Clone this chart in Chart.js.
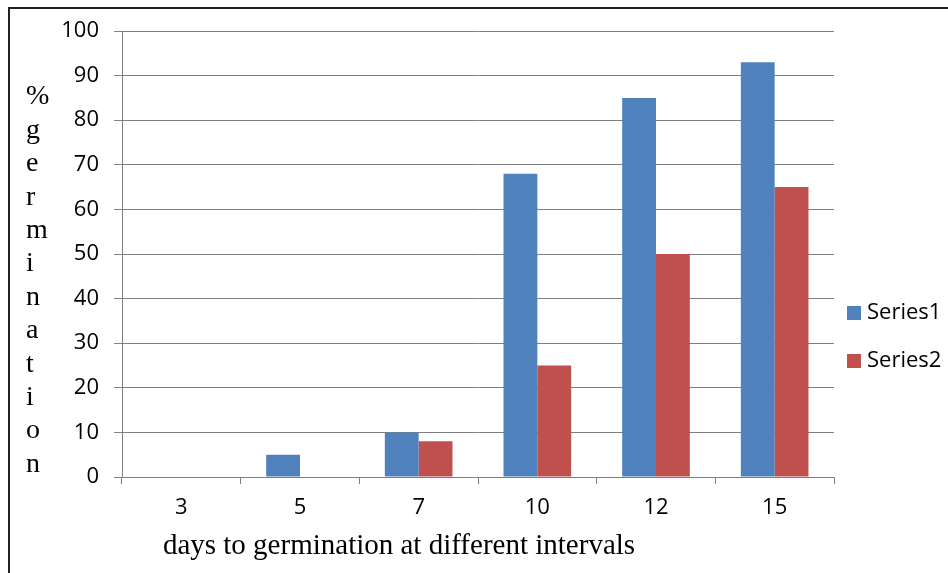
<!DOCTYPE html>
<html>
<head>
<meta charset="utf-8">
<script src="https://cdn.jsdelivr.net/npm/chart.js@4"></script>
<style>
html,body{margin:0;padding:0;background:#fff;}
#wrap{position:relative;width:948px;height:573px;overflow:hidden;}
#frame{position:absolute;left:8px;top:7px;width:960px;height:600px;border-top:2px solid #222;border-left:2px solid #222;}
canvas{position:absolute;left:0;top:0;}
</style>
</head>
<body>
<div id="wrap">
<div id="frame"></div>
<canvas id="grafico" width="948" height="573"></canvas>
</div>
<script>
// datos
const categorias = ["3", "5", "7", "10", "12", "15"];
const serie1 = [0, 5, 10, 68, 85, 93];
const serie2 = [0, 0, 8, 25, 50, 65];
const nombres = ["Series1", "Series2"];
const colores = ["#4F81BD", "#C0504D"];
const yMin = 0, yMax = 100, yPaso = 10;
const letrasY = ["%", "g", "e", "r", "m", "i", "n", "a", "t", "i", "o", "n"];
const tituloX = "days to germination at different intervals";

const sans = "'Open Sans', 'Liberation Sans', sans-serif";
const serif = "'Liberation Serif', 'DejaVu Serif', serif";

// titulo vertical letra por letra, titulo x y leyenda
const textos = {
  id: "textos",
  afterDraw(chart) {
    const c = chart.ctx;
    c.save();
    c.fillStyle = "#000";
    c.font = "28px " + serif;
    c.textAlign = "left";
    c.textBaseline = "middle";
    for (let i = 0; i < letrasY.length; i++) {
      c.fillText(letrasY[i], 26, 97 + i * 33.4);
    }
    c.font = "29px " + serif;
    c.textAlign = "center";
    c.fillText(tituloX, 399, 546);

    c.font = "22px " + sans;
    c.textAlign = "left";
    const ds = chart.data.datasets;
    for (let i = 0; i < ds.length; i++) {
      const y = 313 + i * 48;
      c.fillStyle = ds[i].backgroundColor;
      c.fillRect(847, y - 7, 14, 14);
      c.fillStyle = "#000";
      c.fillText(ds[i].label, 867, y);
    }
    c.restore();
  }
};

const ctx = document.getElementById("grafico");

let grafico = new Chart(ctx, {
  type: "bar",
  data: {
    labels: categorias,
    datasets: [
      { label: nombres[0], data: serie1, backgroundColor: colores[0] },
      { label: nombres[1], data: serie2, backgroundColor: colores[1] }
    ]
  },
  options: {
    responsive: false,
    animation: false,
    layout: { padding: { left: 0, right: 114, top: 31, bottom: 0 } },
    datasets: { bar: { barPercentage: 1, categoryPercentage: 0.57 } },
    plugins: { legend: { display: false }, tooltip: { enabled: false } },
    scales: {
      x: {
        grid: { offset: true, drawOnChartArea: false, drawTicks: true, tickLength: 7, color: "#7f7f7f" },
        border: { color: "#7f7f7f" },
        ticks: { color: "#000", font: { family: sans, size: 22 }, padding: 11 },
        afterFit(s) { s.height = 96; }
      },
      y: {
        min: yMin,
        max: yMax,
        grid: { color: "#7f7f7f", tickLength: 8 },
        border: { color: "#7f7f7f" },
        ticks: { stepSize: yPaso, color: "#000", font: { family: sans, size: 22 }, padding: 15 },
        afterFit(s) { s.width = 122; }
      }
    }
  },
  plugins: [textos]
});
</script>
</body>
</html>
